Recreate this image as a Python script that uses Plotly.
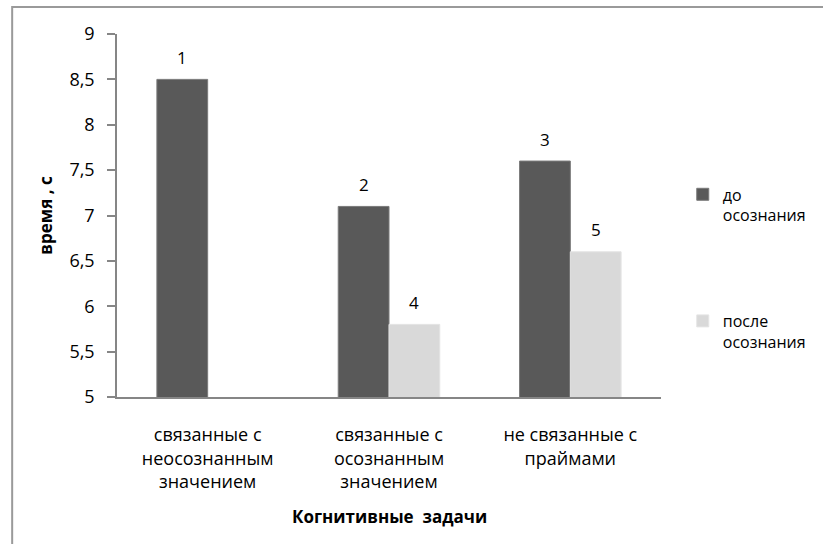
import plotly.graph_objects as go

# Cognitive task categories (x axis)
categories = [
    "связанные с<br>неосознанным<br>значением",
    "связанные с<br>осознанным<br>значением",
    "не связанные с<br>праймами",
]
# Reaction time, seconds
before_values = [8.5, 7.1, 7.6]
after_values = [None, 5.8, 6.6]
# Bar label numbers
before_labels = ["1", "2", "3"]
after_labels = ["", "4", "5"]

series_names = ["до<br>осознания", "после<br>осознания"]
y_ticks = [5, 5.5, 6, 6.5, 7, 7.5, 8, 8.5, 9]

FONT = "Open Sans"
DARK = "#595959"
LIGHT = "#d9d9d9"
AXIS = "#868686"
BARGAP = 0.44

x_idx = list(range(len(categories)))

fig = go.Figure()
fig.add_trace(go.Bar(
    x=x_idx, y=before_values, name=series_names[0], legendgroup="a",
    marker=dict(color=DARK, line=dict(color="#7a7a7a", width=1)),
))
fig.add_trace(go.Bar(
    x=x_idx, y=after_values, name=series_names[1], legendgroup="b",
    marker=dict(color=LIGHT, line=dict(color="#e4e4e4", width=1)),
))

# Number labels above each bar, centred on the grouped bar positions
half = (1 - BARGAP) / 4
annotations = []
for vals, labels, shift in ((before_values, before_labels, -half),
                            (after_values, after_labels, half)):
    for i, (v, lab) in enumerate(zip(vals, labels)):
        if v is None or not lab:
            continue
        annotations.append(dict(
            x=i + shift, y=v, xref="x", yref="y", text=lab, showarrow=False,
            yanchor="middle", yshift=22, font=dict(family=FONT, size=17, color="#000"),
        ))

annotations.append(dict(
    x=0.5, y=-0.33, xref="paper", yref="paper", text="<b>Когнитивные  задачи</b>",
    showarrow=False, font=dict(family=FONT, size=17, color="#000"),
    xanchor="center", yanchor="middle",
))

fig.update_layout(
    width=823, height=544,
    margin=dict(l=117, r=156, t=34, b=147),
    paper_bgcolor="white", plot_bgcolor="white",
    separators=", ",
    barmode="group", bargap=BARGAP, bargroupgap=0,
    font=dict(family=FONT, size=15, color="#000"),
    showlegend=True,
    legend=dict(
        x=1.04, y=0.605, xanchor="left", yanchor="top",
        tracegroupgap=82, valign="top",
        font=dict(family=FONT, size=16, color="#000"),
        bgcolor="rgba(0,0,0,0)",
    ),
    annotations=annotations,
    shapes=[dict(
        type="rect", xref="paper", yref="paper",
        x0=-0.1927, x1=1.4, y0=-0.6, y1=1.0744,
        line=dict(color="#9a9a9a", width=2), layer="below",
    )],
)

fig.update_xaxes(
    tickvals=x_idx, ticktext=categories, range=[-0.5, 2.5],
    showline=True, linecolor=AXIS, linewidth=1.5, ticks="",
    showgrid=False, zeroline=False, ticklabelstandoff=21,
    tickfont=dict(family=FONT, size=18, color="#000"),
)
fig.update_yaxes(
    range=[5, 9], tickvals=y_ticks,
    showline=True, linecolor=AXIS, linewidth=1.5,
    ticks="outside", ticklen=8, tickcolor=AXIS, tickwidth=1.5,
    showgrid=False, zeroline=False, ticklabelstandoff=9,
    tickfont=dict(family=FONT, size=18, color="#000"),
    title=dict(text="<b>время , с</b>", standoff=12,
               font=dict(family=FONT, size=17, color="#000")),
)

fig.write_html("out.html")
